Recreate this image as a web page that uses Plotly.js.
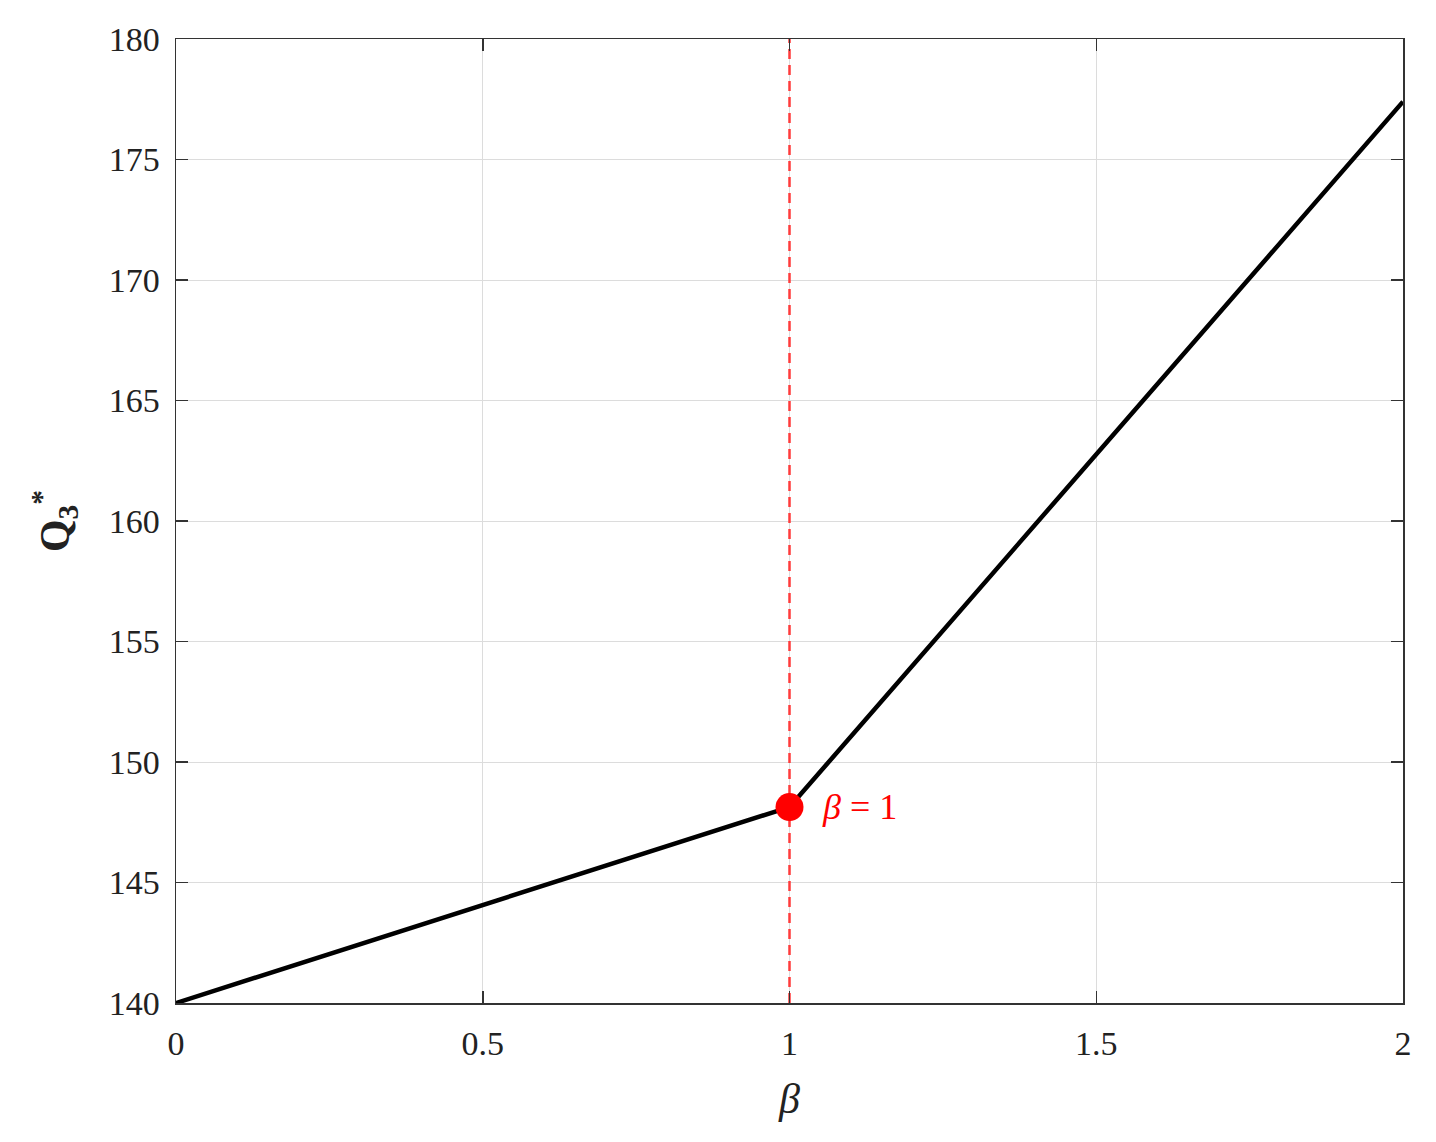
<!DOCTYPE html>
<html>
<head>
<meta charset="utf-8">
<script src="https://cdn.plot.ly/plotly-3.0.1.min.js"></script>
<style>
  html, body { margin: 0; padding: 0; background: #fff; }
  #chart { width: 1436px; height: 1142px; }
</style>
</head>
<body>
<div id="chart"></div>
<script>
// beta values and optimal Q3*
const beta = [0, 1, 2];
const q3 = [140, 148.13, 177.4];

// threshold marker
const betaThreshold = [1];
const q3Threshold = [148.13];

const refLineX = [1, 1];
const refLineY = [140, 180];

const xTicks = [0, 0.5, 1, 1.5, 2];
const xTickText = ['0', '0.5', '1', '1.5', '2'];
const yTicks = [140, 145, 150, 155, 160, 165, 170, 175, 180];

const serif = '"Liberation Serif", "Times New Roman", serif';

const traces = [
  {
    x: refLineX,
    y: refLineY,
    mode: 'lines',
    line: { color: '#ff3b3b', width: 2.5, dash: '10px,6px' },
    hoverinfo: 'skip'
  },
  {
    x: beta,
    y: q3,
    mode: 'lines',
    line: { color: '#000', width: 4.5 }
  },
  {
    x: betaThreshold,
    y: q3Threshold,
    mode: 'markers',
    marker: { color: '#ff0000', size: 28 }
  }
];

const axisCommon = {
  showline: true,
  linecolor: '#333',
  linewidth: 1.5,
  mirror: 'ticks',
  ticks: 'inside',
  ticklen: 12,
  tickwidth: 1.5,
  tickcolor: '#333',
  showgrid: true,
  gridcolor: '#dcdcdc',
  gridwidth: 1,
  zeroline: false,
  tickfont: { family: serif, size: 34, color: '#222' }
};

const layout = {
  width: 1436,
  height: 1142,
  paper_bgcolor: '#fff',
  plot_bgcolor: '#fff',
  showlegend: false,
  margin: { l: 176, r: 33, t: 39, b: 139 },
  xaxis: Object.assign({}, axisCommon, {
    range: [0, 2],
    tickvals: xTicks,
    ticktext: xTickText,
    ticklabelstandoff: 10,
    title: { text: '<i>β</i>', font: { family: serif, size: 42, color: '#222' }, standoff: 22 }
  }),
  yaxis: Object.assign({}, axisCommon, {
    range: [140, 180],
    tickvals: yTicks,
    ticklabelstandoff: 8,
    title: { text: '<b>Q<sub>3</sub><sup>*</sup></b>', font: { family: serif, size: 42, color: '#222' }, standoff: 26 }
  }),
  annotations: [
    {
      x: 1, y: 148.13, xref: 'x', yref: 'y',
      xanchor: 'left', yanchor: 'middle', xshift: 30,
      text: '<i>β</i> = 1',
      showarrow: false,
      font: { family: serif, size: 36, color: '#ff0000' }
    }
  ]
};

Plotly.newPlot('chart', traces, layout, { displayModeBar: false, staticPlot: true });
</script>
</body>
</html>
